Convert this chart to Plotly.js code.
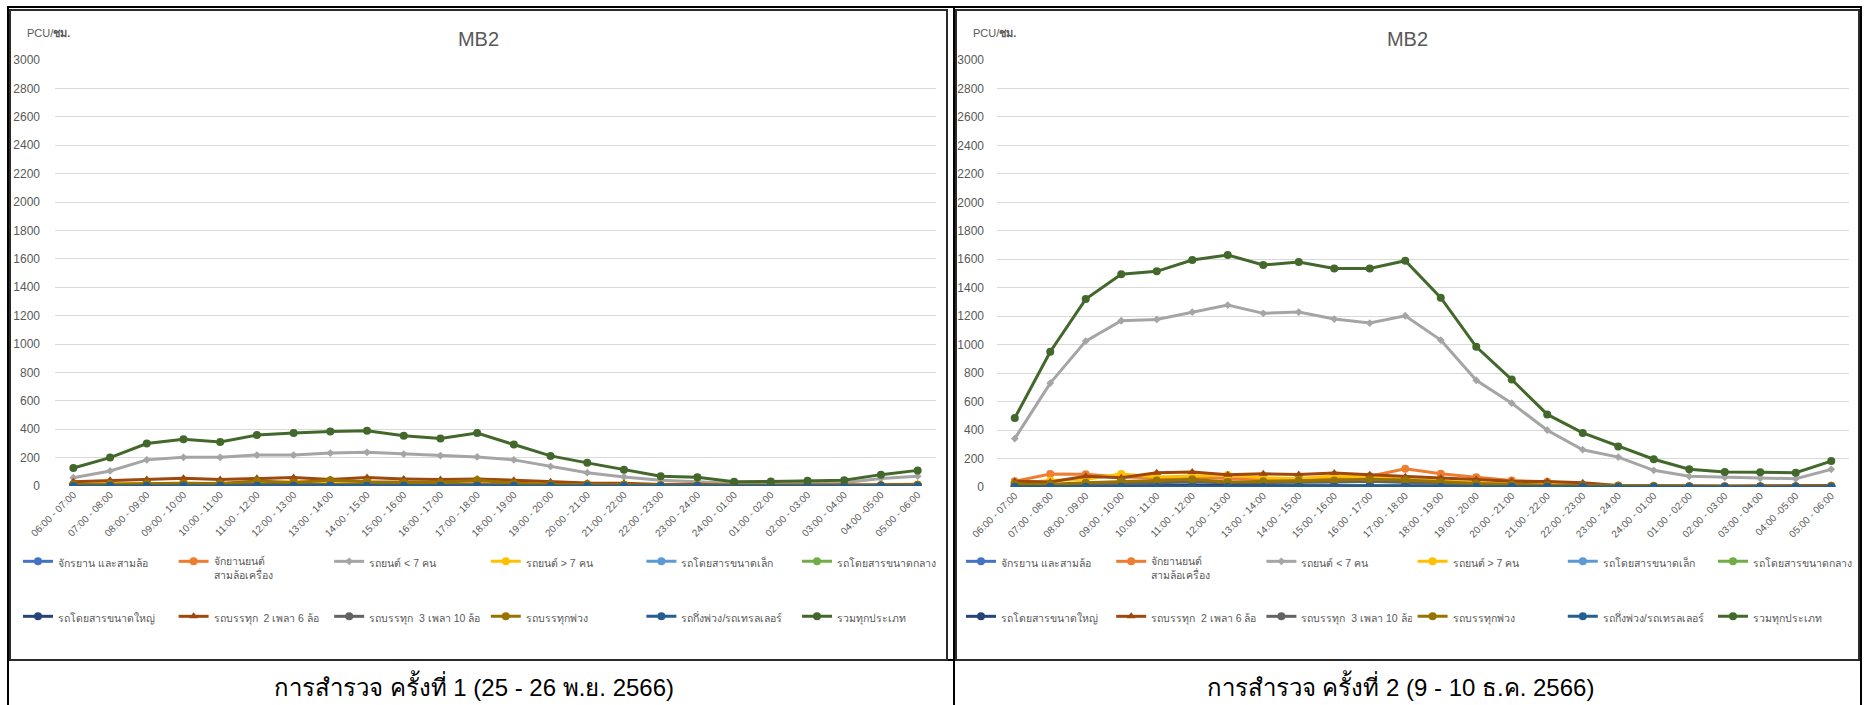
<!DOCTYPE html>
<html>
<head>
<meta charset="utf-8">
<script src="https://cdn.plot.ly/plotly-3.0.1.min.js"></script>
<style>
  html, body { margin: 0; padding: 0; background: #fff; }
  body { width: 1866px; height: 705px; position: relative; overflow: hidden;
         font-family: "Liberation Sans", "Noto Sans", sans-serif; }
  .rule { position: absolute; background: #000; }
  .frame { position: absolute; border: 2px solid #2b2b2b; box-sizing: border-box; background: #fff; }
  .chart { position: absolute; }
  .caption { position: absolute; top: 662px; height: 43px; line-height: 52px; text-align: center;
             font-size: 24px; color: #000; white-space: nowrap; }
</style>
</head>
<body>
<!-- table rules -->
<div class="rule" style="left:7px; top:6px; width:1855px; height:2px;"></div>
<div class="rule" style="left:7px; top:6px; width:2px; height:699px;"></div>
<div class="rule" style="left:953px; top:6px; width:2px; height:699px;"></div>
<div class="rule" style="left:1860px; top:6px; width:2px; height:699px;"></div>
<div class="rule" style="left:7px; top:659px; width:1855px; height:2px;"></div>

<div class="frame" style="left:9px; top:9px; width:939px; height:652px;"></div>
<div class="frame" style="left:955px; top:9px; width:905px; height:652px;"></div>

<div id="chart1" class="chart" style="left:11px; top:11px; width:935px; height:648px;"></div>
<div id="chart2" class="chart" style="left:957px; top:11px; width:901px; height:648px;"></div>

<div class="caption" style="left:9px; width:930px;">การสำรวจ ครั้งที่ 1 (25 - 26 พ.ย. 2566)</div>
<div class="caption" style="left:955px; width:891px;">การสำรวจ ครั้งที่ 2 (9 - 10 ธ.ค. 2566)</div>

<script>
// Hourly periods
const periods = [
  "06:00 - 07:00", "07:00 - 08:00", "08:00 - 09:00", "09:00 - 10:00",
  "10:00 - 11:00", "11:00 - 12:00", "12:00 - 13:00", "13:00 - 14:00",
  "14:00 - 15:00", "15:00 - 16:00", "16:00 - 17:00", "17:00 - 18:00",
  "18:00 - 19:00", "19:00 - 20:00", "20:00 - 21:00", "21:00 - 22:00",
  "22:00 - 23:00", "23:00 - 24:00", "24:00 - 01:00", "01:00 - 02:00",
  "02:00 - 03:00", "03:00 - 04:00", "04:00 -05:00", "05:00 - 06:00"
];

// Vehicle classes
const seriesNames = [
  "จักรยาน และสามล้อ", "จักยานยนต์<br>สามล้อเครื่อง", "รถยนต์ < 7 คน",
  "รถยนต์ > 7 คน", "รถโดยสารขนาดเล็ก", "รถโดยสารขนาดกลาง",
  "รถโดยสารขนาดใหญ่", "รถบรรทุก  2 เพลา 6 ล้อ", "รถบรรทุก  3 เพลา 10 ล้อ",
  "รถบรรทุกพ่วง", "รถกึ่งพ่วง/รถเทรลเลอร์", "รวมทุกประเภท"
];
const seriesColors = [
  "#4472C4", "#ED7D31", "#A5A5A5", "#FFC000", "#5B9BD5", "#70AD47",
  "#264478", "#9E480E", "#636363", "#997300", "#255E91", "#43682B"
];
const seriesSymbols = [
  "circle", "circle", "diamond", "circle", "circle", "circle",
  "circle", "triangle-up", "circle", "circle", "circle", "circle"
];
// legend block for each class: 2 rows x 2 halves of three entries
const legendOf = ["legend", "legend", "legend", "legend3", "legend3", "legend3",
                  "legend2", "legend2", "legend2", "legend4", "legend4", "legend4"];

// Survey 1 (25 - 26 Nov 2566), PCU/hour
const bicycle1  = [2,2,2,2,2,2,2,2,2,2,2,2,2,2,1,1,1,1,0,0,0,0,1,1];
const moto1     = [10,12,15,15,15,12,20,18,18,16,15,18,12,8,10,6,4,4,2,3,3,3,4,6];
const car1      = [58,106,184,202,202,218,218,232,237,225,214,205,184,138,94,64,41,30,18,14,20,23,53,69];
const van1      = [10,15,20,20,15,25,30,30,25,20,20,40,20,12,12,8,5,6,2,3,3,3,5,8];
const smallBus1 = [2,2,3,3,3,3,3,3,3,3,3,3,3,2,2,1,1,1,0,1,1,1,1,2];
const medBus1   = [1,1,2,2,2,2,2,2,2,2,2,2,2,1,1,1,0,0,0,0,0,0,0,1];
const bigBus1   = [1,1,2,2,2,2,2,2,2,2,2,2,2,1,1,1,0,0,0,0,0,0,0,1];
const truck6_1  = [30,40,45,55,45,55,60,45,60,50,45,50,40,30,22,20,10,12,5,6,5,5,8,12];
const truck10_1 = [5,8,10,12,10,10,12,12,12,10,8,10,8,6,5,4,2,2,1,2,2,2,3,4];
const trailer1  = [10,15,20,20,18,35,25,40,30,25,25,40,20,12,12,8,5,5,2,3,3,3,5,8];
const semi1     = [0,1,1,1,1,1,1,1,1,1,1,1,1,1,1,0,0,0,0,0,0,0,0,0];
const total1    = [127,200,299,329,310,359,373,384,389,354,334,373,292,212,163,115,69,62,30,32,37,40,80,110];

// Survey 2 (9 - 10 Dec 2566), PCU/hour
const bicycle2  = [2,3,3,3,3,3,3,3,3,3,3,3,3,2,2,1,1,1,0,0,0,0,0,1];
const moto2     = [40,92,90,70,65,70,60,60,58,65,75,128,93,68,45,37,14,10,8,6,5,5,5,8];
const car2      = [340,730,1025,1168,1177,1229,1278,1220,1229,1180,1152,1203,1032,750,589,399,262,210,117,75,68,61,58,124];
const van2      = [25,45,55,92,70,75,85,65,60,78,70,55,40,30,20,15,10,8,5,4,3,3,3,8];
const smallBus2 = [5,10,10,10,12,12,12,12,12,12,14,12,10,8,6,5,4,3,2,2,1,1,2,3];
const medBus2   = [3,5,8,8,10,10,10,10,10,10,10,10,8,6,4,3,2,2,1,1,1,1,1,2];
const bigBus2   = [3,5,8,8,10,10,10,10,10,10,10,10,8,6,4,3,2,2,1,1,1,1,1,2];
const truck6_2  = [40,35,75,65,100,105,86,93,88,98,86,72,63,52,40,38,30,10,8,6,5,8,8,10];
const truck10_2 = [10,15,20,25,30,35,30,30,35,35,40,30,25,20,12,8,6,5,3,3,2,2,3,5];
const trailer2  = [20,20,30,40,45,55,35,40,45,45,55,50,35,25,20,12,10,8,5,4,3,3,3,5];
const semi2     = [1,2,2,2,2,2,2,2,2,2,2,2,2,2,1,1,1,0,0,0,0,0,0,0];
const total2    = [485,950,1320,1495,1515,1595,1630,1560,1580,1535,1535,1590,1330,985,755,510,380,285,195,125,105,103,100,182];

const yTicks = [0,200,400,600,800,1000,1200,1400,1600,1800,2000,2200,2400,2600,2800,3000];

const FONT = '"Liberation Sans", "Noto Sans", sans-serif';
const GREY = '#595959';

function buildTraces(seriesValues) {
  return seriesValues.map((vals, i) => ({
    type: 'scatter', mode: 'lines+markers',
    x: periods, y: vals, name: seriesNames[i],
    legend: legendOf[i],
    line: { color: seriesColors[i], width: 3 },
    marker: { color: seriesColors[i], size: seriesSymbols[i] === 'diamond' ? 6 : 8, symbol: seriesSymbols[i] },
    hoverinfo: 'x+y+name'
  }));
}

function buildLayout(w, h, m, colPx, legLeftPx, standoff) {
  const plotH = h - m.t - m.b;
  const plotW = w - m.l - m.r;
  const xLeft = -(m.l - legLeftPx) / plotW;
  const xRight = -(m.l - legLeftPx - 3 * colPx - 4) / plotW;
  const yRow1 = -(537 - (h - m.b)) / plotH;
  const yRow2 = -(592 - (h - m.b)) / plotH;
  const legendBase = {
    orientation: 'h', xanchor: 'left', yanchor: 'top',
    entrywidth: colPx - 44, entrywidthmode: 'pixels', itemwidth: 30,
    valign: 'top', traceorder: 'normal',
    font: { family: FONT, size: 10.5, color: GREY }, bgcolor: 'rgba(0,0,0,0)'
  };
  return {
    width: w, height: h, margin: Object.assign({ autoexpand: false }, m),
    paper_bgcolor: '#fff', plot_bgcolor: '#fff',
    font: { family: FONT, color: GREY },
    title: { text: 'MB2', x: 0.5, xref: 'container', xanchor: 'center',
             y: 1 - 28 / h, yref: 'container', yanchor: 'middle',
             font: { family: FONT, size: 20, color: GREY } },
    xaxis: {
      type: 'category', range: [-0.5, periods.length - 0.5],
      tickangle: -45, ticks: '', showgrid: false, zeroline: false,
      showline: false, tickfont: { family: FONT, size: 10, color: GREY }, automargin: false
    },
    yaxis: {
      range: [0, 3000], tickvals: yTicks, ticks: '', showline: false, zeroline: false,
      gridcolor: '#D9D9D9', gridwidth: 1, ticklabelstandoff: standoff,
      tickfont: { family: FONT, size: 12, color: GREY }, automargin: false
    },
    showlegend: true,
    legend:  Object.assign({}, legendBase, { x: xLeft,  y: yRow1 }),
    legend3: Object.assign({}, legendBase, { x: xRight, y: yRow1 }),
    legend2: Object.assign({}, legendBase, { x: xLeft,  y: yRow2 }),
    legend4: Object.assign({}, legendBase, { x: xRight, y: yRow2 }),
    annotations: [{
      text: 'PCU/<b>ชม.</b>', xref: 'paper', yref: 'paper', showarrow: false,
      x: -(m.l - 14) / plotW, xanchor: 'left',
      y: 1 + (m.t - 22) / plotH, yanchor: 'middle',
      font: { family: FONT, size: 11, color: GREY }
    }]
  };
}

const cfg = { displayModeBar: false, staticPlot: true };

Plotly.newPlot('chart1',
  buildTraces([bicycle1, moto1, car1, van1, smallBus1, medBus1, bigBus1, truck6_1, truck10_1, trailer1, semi1, total1]),
  buildLayout(935, 648, { l: 44, r: 10, t: 49, b: 173 }, 154.6, 7, 14), cfg);

Plotly.newPlot('chart2',
  buildTraces([bicycle2, moto2, car2, van2, smallBus2, medBus2, bigBus2, truck6_2, truck10_2, trailer2, semi2, total2]),
  buildLayout(901, 648, { l: 40, r: 9, t: 49, b: 172 }, 149.2, 4, 12), cfg);
</script>
</body>
</html>
